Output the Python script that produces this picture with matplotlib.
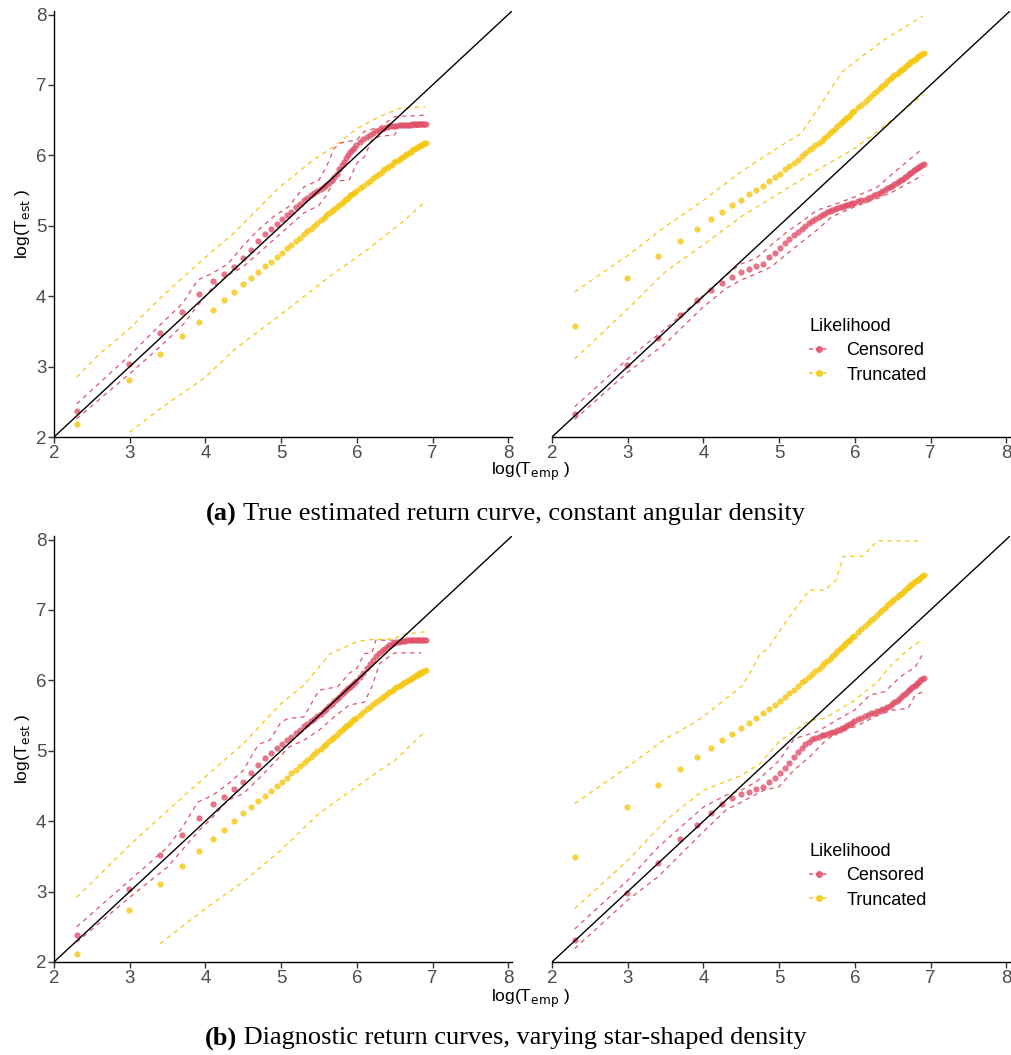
import numpy as np
import matplotlib
matplotlib.use('Agg')
import matplotlib.pyplot as plt
from matplotlib.lines import Line2D

plt.rc('font', family='Liberation Sans')

RED = '#DF536B'
YELLOW = '#F5C710'

# empirical return periods used for the points
t_emp = list(range(10, 410, 10)) + list(range(420, 1001, 20))

# ---- panel (a), left: true estimated return curve ----
a1_cens = [2.37, 3.03, 3.48, 3.77, 4.03, 4.22, 4.32, 4.42, 4.54, 4.66, 4.79, 4.88, 4.96, 5.03, 5.09, 5.15, 5.20, 5.26, 5.31, 5.36,
           5.39, 5.43, 5.46, 5.49, 5.52, 5.55, 5.58, 5.61, 5.65, 5.69, 5.74, 5.80, 5.86, 5.91, 5.96, 6.01, 6.05, 6.08, 6.11, 6.14,
           6.19, 6.23, 6.26, 6.29, 6.32, 6.34, 6.36, 6.38, 6.39, 6.40, 6.41, 6.415, 6.42, 6.42, 6.425, 6.43, 6.43, 6.43, 6.43, 6.435,
           6.435, 6.44, 6.44, 6.44, 6.44, 6.44, 6.44, 6.44, 6.44, 6.44]
a1_trunc = [2.19, 2.81, 3.18, 3.44, 3.64, 3.80, 3.94, 4.06, 4.17, 4.26, 4.35, 4.43, 4.49, 4.56, 4.62, 4.68, 4.73, 4.78, 4.83, 4.88,
            4.92, 4.96, 5.00, 5.04, 5.08, 5.11, 5.15, 5.18, 5.21, 5.24, 5.27, 5.30, 5.32, 5.35, 5.38, 5.40, 5.43, 5.45, 5.47, 5.49,
            5.53, 5.57, 5.61, 5.64, 5.68, 5.71, 5.74, 5.77, 5.80, 5.82, 5.85, 5.87, 5.90, 5.92, 5.94, 5.96, 5.98, 6.00, 6.02, 6.04,
            6.05, 6.07, 6.09, 6.10, 6.12, 6.13, 6.14, 6.15, 6.17, 6.18]
a1_cens_hi_x = [2.3, 3.0, 3.4, 3.7, 3.9, 4.1, 4.3, 4.5, 4.7, 4.9, 5.1, 5.3, 5.5, 5.6, 5.7, 5.8, 6.0, 6.1, 6.3, 6.5, 6.9]
a1_cens_hi_y = [2.47, 3.16, 3.59, 3.90, 4.23, 4.33, 4.46, 4.72, 4.94, 5.13, 5.27, 5.55, 5.65, 5.84, 6.10, 6.18, 6.22, 6.34, 6.40, 6.55, 6.57]
a1_cens_lo_x = [2.3, 3.0, 3.4, 3.7, 3.9, 4.1, 4.3, 4.5, 4.7, 4.9, 5.1, 5.3, 5.5, 5.6, 5.7, 5.9, 6.0, 6.1, 6.2, 6.3, 6.5, 6.55, 6.9]
a1_cens_lo_y = [2.26, 2.90, 3.28, 3.59, 3.87, 4.13, 4.30, 4.42, 4.61, 4.80, 4.99, 5.18, 5.29, 5.44, 5.63, 5.65, 5.89, 5.98, 6.22, 6.27, 6.29, 6.40, 6.40]
a1_trunc_hi_x = [2.3, 2.6, 3.0, 3.4, 3.9, 4.37, 4.98, 5.42, 5.69, 6.0, 6.3, 6.57, 6.9]
a1_trunc_hi_y = [2.85, 3.18, 3.54, 3.97, 4.46, 4.89, 5.55, 5.93, 6.12, 6.38, 6.55, 6.67, 6.69]
a1_trunc_lo_x = [3.0, 3.4, 4.0, 4.37, 5.07, 5.69, 6.13, 6.35, 6.6, 6.9]
a1_trunc_lo_y = [2.07, 2.40, 2.85, 3.23, 3.80, 4.32, 4.65, 4.84, 5.05, 5.34]

# ---- panel (a), right ----
a2_cens = [2.33, 3.02, 3.40, 3.73, 3.95, 4.09, 4.18, 4.27, 4.34, 4.39, 4.43, 4.46, 4.55, 4.62, 4.69, 4.75, 4.81, 4.87, 4.91, 4.96,
           5.00, 5.04, 5.07, 5.10, 5.12, 5.15, 5.17, 5.19, 5.21, 5.23, 5.24, 5.25, 5.26, 5.27, 5.28, 5.29, 5.30, 5.31, 5.32, 5.33,
           5.345, 5.36, 5.37, 5.39, 5.41, 5.43, 5.45, 5.47, 5.49, 5.51, 5.53, 5.55, 5.57, 5.59, 5.61, 5.63, 5.65, 5.67, 5.69, 5.71,
           5.73, 5.75, 5.77, 5.79, 5.80, 5.82, 5.84, 5.85, 5.87, 5.88]
a2_trunc = [3.58, 4.26, 4.57, 4.79, 4.95, 5.09, 5.19, 5.29, 5.37, 5.45, 5.51, 5.57, 5.63, 5.69, 5.74, 5.80, 5.85, 5.89, 5.94, 5.99,
            6.03, 6.07, 6.10, 6.14, 6.17, 6.21, 6.25, 6.28, 6.32, 6.35, 6.38, 6.41, 6.44, 6.47, 6.50, 6.53, 6.55, 6.58, 6.61, 6.63,
            6.68, 6.72, 6.76, 6.80, 6.84, 6.88, 6.92, 6.95, 6.99, 7.02, 7.05, 7.08, 7.11, 7.14, 7.16, 7.19, 7.21, 7.23, 7.26, 7.28,
            7.30, 7.32, 7.34, 7.36, 7.37, 7.39, 7.41, 7.42, 7.44, 7.45]
a2_cens_hi_x = [2.3, 3.0, 3.5, 4.0, 4.3, 4.5, 4.7, 4.9, 5.1, 5.3, 5.5, 5.7, 6.0, 6.3, 6.5, 6.9]
a2_cens_hi_y = [2.43, 3.11, 3.54, 4.01, 4.30, 4.46, 4.54, 4.73, 4.91, 5.06, 5.22, 5.29, 5.41, 5.55, 5.74, 6.10]
a2_cens_lo_x = [2.3, 3.0, 3.5, 4.0, 4.3, 4.5, 4.7, 4.9, 5.0, 5.3, 5.5, 5.7, 6.0, 6.3, 6.5, 6.9]
a2_cens_lo_y = [2.25, 2.92, 3.33, 3.85, 4.11, 4.23, 4.32, 4.42, 4.51, 4.77, 4.94, 5.13, 5.27, 5.39, 5.48, 5.72]
a2_trunc_hi_x = [2.3, 3.0, 3.5, 4.0, 4.5, 5.0, 5.29, 5.5, 5.82, 6.0, 6.39, 6.61, 6.9]
a2_trunc_hi_y = [4.06, 4.58, 4.99, 5.36, 5.77, 6.12, 6.31, 6.64, 7.17, 7.33, 7.64, 7.79, 7.98]
a2_trunc_lo_x = [2.3, 3.0, 3.5, 4.0, 4.5, 5.0, 5.5, 6.0, 6.3, 6.6, 6.9]
a2_trunc_lo_y = [3.11, 3.82, 4.35, 4.73, 5.13, 5.46, 5.79, 6.10, 6.34, 6.60, 6.86]

# ---- panel (b), left: diagnostic return curves ----
b1_cens = [2.39, 3.03, 3.52, 3.81, 4.05, 4.24, 4.35, 4.45, 4.56, 4.68, 4.80, 4.90, 4.97, 5.04, 5.10, 5.15, 5.20, 5.25, 5.30, 5.35,
           5.38, 5.42, 5.45, 5.49, 5.52, 5.56, 5.60, 5.64, 5.67, 5.71, 5.74, 5.77, 5.80, 5.83, 5.86, 5.89, 5.91, 5.94, 5.96, 5.99,
           6.05, 6.11, 6.17, 6.23, 6.29, 6.34, 6.39, 6.42, 6.45, 6.48, 6.50, 6.52, 6.53, 6.54, 6.55, 6.56, 6.56, 6.565, 6.57, 6.57,
           6.57, 6.57, 6.57, 6.57, 6.57, 6.57, 6.57, 6.57, 6.57, 6.57]
b1_trunc = [2.12, 2.74, 3.11, 3.37, 3.58, 3.74, 3.88, 4.00, 4.11, 4.20, 4.29, 4.36, 4.43, 4.50, 4.56, 4.62, 4.68, 4.73, 4.78, 4.83,
            4.87, 4.91, 4.95, 4.99, 5.03, 5.07, 5.10, 5.14, 5.17, 5.20, 5.23, 5.26, 5.29, 5.32, 5.35, 5.37, 5.40, 5.42, 5.45, 5.47,
            5.51, 5.55, 5.59, 5.62, 5.66, 5.69, 5.72, 5.75, 5.78, 5.80, 5.83, 5.85, 5.88, 5.90, 5.92, 5.94, 5.96, 5.97, 5.99, 6.01,
            6.02, 6.04, 6.05, 6.07, 6.08, 6.10, 6.11, 6.12, 6.13, 6.14]
b1_cens_hi_x = [2.3, 3.0, 3.5, 3.7, 3.9, 4.1, 4.3, 4.5, 4.7, 4.85, 5.0, 5.1, 5.3, 5.5, 5.75, 5.9, 6.0, 6.1, 6.2, 6.25, 6.85]
b1_cens_hi_y = [2.50, 3.16, 3.63, 3.92, 4.27, 4.37, 4.53, 4.72, 5.09, 5.15, 5.41, 5.46, 5.48, 5.86, 5.91, 6.10, 6.17, 6.38, 6.39, 6.57, 6.57]
b1_cens_lo_x = [2.3, 3.0, 3.5, 3.9, 4.1, 4.3, 4.5, 4.7, 4.9, 5.1, 5.3, 5.5, 5.7, 5.9, 6.1, 6.2, 6.3, 6.5, 6.85]
b1_cens_lo_y = [2.28, 2.92, 3.35, 3.85, 4.06, 4.30, 4.39, 4.60, 4.82, 5.05, 5.15, 5.29, 5.48, 5.65, 5.69, 5.91, 6.24, 6.39, 6.39]
b1_trunc_hi_x = [2.3, 3.0, 3.5, 4.0, 4.5, 5.0, 5.3, 5.5, 5.65, 5.8, 6.0, 6.2, 6.5, 6.6, 6.9]
b1_trunc_hi_y = [2.92, 3.66, 4.15, 4.63, 5.10, 5.67, 5.93, 6.19, 6.38, 6.45, 6.55, 6.58, 6.59, 6.65, 6.69]
b1_trunc_lo_x = [3.4, 4.0, 4.5, 5.0, 5.5, 6.0, 6.3, 6.5, 6.9]
b1_trunc_lo_y = [2.26, 2.76, 3.14, 3.59, 4.11, 4.49, 4.72, 4.86, 5.27]

# ---- panel (b), right ----
b2_cens = [2.31, 2.98, 3.41, 3.74, 3.94, 4.12, 4.25, 4.33, 4.38, 4.41, 4.45, 4.49, 4.55, 4.61, 4.68, 4.76, 4.83, 4.91, 4.98, 5.04,
           5.09, 5.13, 5.16, 5.18, 5.20, 5.22, 5.23, 5.24, 5.25, 5.26, 5.27, 5.29, 5.30, 5.32, 5.33, 5.35, 5.37, 5.38, 5.40, 5.42,
           5.45, 5.47, 5.49, 5.51, 5.53, 5.54, 5.56, 5.57, 5.59, 5.60, 5.62, 5.64, 5.66, 5.69, 5.71, 5.74, 5.77, 5.79, 5.81, 5.84,
           5.86, 5.88, 5.90, 5.92, 5.94, 5.96, 5.98, 6.00, 6.02, 6.03]
b2_trunc = [3.49, 4.20, 4.52, 4.74, 4.91, 5.04, 5.15, 5.24, 5.33, 5.40, 5.47, 5.54, 5.59, 5.65, 5.71, 5.76, 5.82, 5.87, 5.92, 5.97,
            6.01, 6.05, 6.09, 6.13, 6.16, 6.20, 6.24, 6.27, 6.31, 6.34, 6.38, 6.41, 6.44, 6.47, 6.50, 6.53, 6.56, 6.58, 6.61, 6.63,
            6.68, 6.73, 6.77, 6.81, 6.85, 6.89, 6.93, 6.97, 7.00, 7.03, 7.07, 7.10, 7.13, 7.16, 7.18, 7.21, 7.23, 7.26, 7.28, 7.31,
            7.33, 7.35, 7.37, 7.39, 7.41, 7.43, 7.44, 7.46, 7.48, 7.49]
b2_cens_hi_x = [2.3, 3.0, 3.4, 4.0, 4.3, 4.5, 4.7, 5.0, 5.2, 5.5, 5.8, 6.0, 6.2, 6.4, 6.6, 6.8, 6.9]
b2_cens_hi_y = [2.47, 3.16, 3.63, 4.20, 4.37, 4.44, 4.56, 4.86, 5.17, 5.27, 5.46, 5.58, 5.79, 5.84, 6.05, 6.19, 6.38]
b2_cens_lo_x = [2.3, 3.0, 3.4, 4.0, 4.3, 4.5, 4.8, 5.0, 5.2, 5.4, 5.6, 5.8, 6.0, 6.3, 6.5, 6.7, 6.8, 6.9]
b2_cens_lo_y = [2.19, 2.88, 3.21, 3.85, 4.16, 4.27, 4.44, 4.49, 4.73, 4.91, 5.13, 5.29, 5.34, 5.50, 5.58, 5.60, 5.79, 5.84]
b2_trunc_hi_x = [2.3, 3.0, 3.5, 3.9, 4.1, 4.5, 4.6, 4.75, 4.85, 5.0, 5.2, 5.4, 5.6, 5.75, 5.85, 6.1, 6.3, 6.9]
b2_trunc_hi_y = [4.25, 4.77, 5.17, 5.41, 5.57, 5.91, 6.07, 6.38, 6.45, 6.69, 7.00, 7.28, 7.28, 7.42, 7.76, 7.76, 7.98, 7.98]
b2_trunc_lo_x = [2.3, 3.0, 3.5, 4.0, 4.5, 4.75, 5.0, 5.4, 5.6, 6.0, 6.3, 6.5, 6.7, 6.9]
b2_trunc_lo_y = [2.76, 3.44, 4.01, 4.44, 4.65, 4.82, 5.13, 5.43, 5.46, 5.72, 5.98, 6.24, 6.43, 6.59]

ticks = [2, 3, 4, 5, 6, 7, 8]
captions = [("(a)", " True estimated return curve, constant angular density"),
            ("(b)", " Diagnostic return curves, varying star-shaped density")]

x_emp = np.log(t_emp)
W, H = 1011, 1055
fig = plt.figure(figsize=(W / 100, H / 100), dpi=100)


def panel(rect, cens, trunc, bands, right):
    ax = fig.add_axes(rect)
    ax.scatter(x_emp, cens, s=20, color=RED, alpha=0.8, linewidths=0, zorder=2)
    ax.scatter(x_emp, trunc, s=20, color=YELLOW, alpha=0.8, linewidths=0, zorder=2)
    for bx, by, col in bands:
        ax.plot(bx, by, color=col, lw=0.9, dashes=(3.5, 3.5), zorder=3)
    ax.plot([2, 8.05], [2, 8.05], color='black', lw=1.0, zorder=4)
    ax.set_xlim(2, 8.05)
    ax.set_ylim(2, 8.05)
    ax.set_xticks(ticks)
    ax.set_yticks(ticks)
    for s in ['top', 'right']:
        ax.spines[s].set_visible(False)
    for s in ['left', 'bottom']:
        ax.spines[s].set_linewidth(1.0)
    ax.tick_params(labelsize=13.5, labelcolor='#4D4D4D', color='#333333',
                   length=4, width=1.0, pad=1.5)
    if right:
        ax.spines['left'].set_visible(False)
        ax.tick_params(left=False, labelleft=False)
        handles = [Line2D([], [], color=RED, lw=1.2, dashes=(2.5, 1.5), marker='o', ms=4, alpha=0.85),
                   Line2D([], [], color=YELLOW, lw=1.2, dashes=(2.5, 1.5), marker='o', ms=4, alpha=0.85)]
        ax.legend(handles, ['Censored', 'Truncated'], title='Likelihood', loc='upper left',
                  bbox_to_anchor=(0.562, 0.279), frameon=False, fontsize=13, title_fontsize=13,
                  handlelength=1.05, handletextpad=1.0, labelspacing=0.4, alignment='left',
                  borderpad=0, borderaxespad=0)
    return ax


aw = 458 / W
ah = 426 / H
top_b = (H - 437) / H
bot_b = (H - 962) / H

panel([54 / W, top_b, aw, ah], a1_cens, a1_trunc,
      [(a1_cens_hi_x, a1_cens_hi_y, RED), (a1_cens_lo_x, a1_cens_lo_y, RED),
       (a1_trunc_hi_x, a1_trunc_hi_y, YELLOW), (a1_trunc_lo_x, a1_trunc_lo_y, YELLOW)], False)
panel([552 / W, top_b, aw, ah], a2_cens, a2_trunc,
      [(a2_cens_hi_x, a2_cens_hi_y, RED), (a2_cens_lo_x, a2_cens_lo_y, RED),
       (a2_trunc_hi_x, a2_trunc_hi_y, YELLOW), (a2_trunc_lo_x, a2_trunc_lo_y, YELLOW)], True)
panel([54 / W, bot_b, aw, ah], b1_cens, b1_trunc,
      [(b1_cens_hi_x, b1_cens_hi_y, RED), (b1_cens_lo_x, b1_cens_lo_y, RED),
       (b1_trunc_hi_x, b1_trunc_hi_y, YELLOW), (b1_trunc_lo_x, b1_trunc_lo_y, YELLOW)], False)
panel([552 / W, bot_b, aw, ah], b2_cens, b2_trunc,
      [(b2_cens_hi_x, b2_cens_hi_y, RED), (b2_cens_lo_x, b2_cens_lo_y, RED),
       (b2_trunc_hi_x, b2_trunc_hi_y, YELLOW), (b2_trunc_lo_x, b2_trunc_lo_y, YELLOW)], True)

# axis titles
for yl, xl in [(224, 461), (749, 988)]:
    fig.text(22 / W, 1 - yl / H, r'log(T$_{\rm est}$ )', rotation=90, ha='center', va='center', fontsize=12.5)
    fig.text(530 / W, 1 - xl / H, r'log(T$_{\rm emp}$ )', ha='center', va='top', fontsize=12.5)

# captions: bold label + normal text, centred together
fig.canvas.draw()
r = fig.canvas.get_renderer()
for (lab, txt), yc in zip(captions, [514, 1038]):
    t1 = fig.text(0, 1 - yc / H, lab, fontsize=19, family='Liberation Serif', weight='bold', va='center')
    t2 = fig.text(0, 1 - yc / H, txt, fontsize=19, family='Liberation Serif', va='center')
    w1 = t1.get_window_extent(r).width
    w2 = t2.get_window_extent(r).width
    x0 = (W - w1 - w2) / 2
    t1.set_x(x0 / W)
    t2.set_x((x0 + w1) / W)

fig.savefig('out.png', dpi=100)
